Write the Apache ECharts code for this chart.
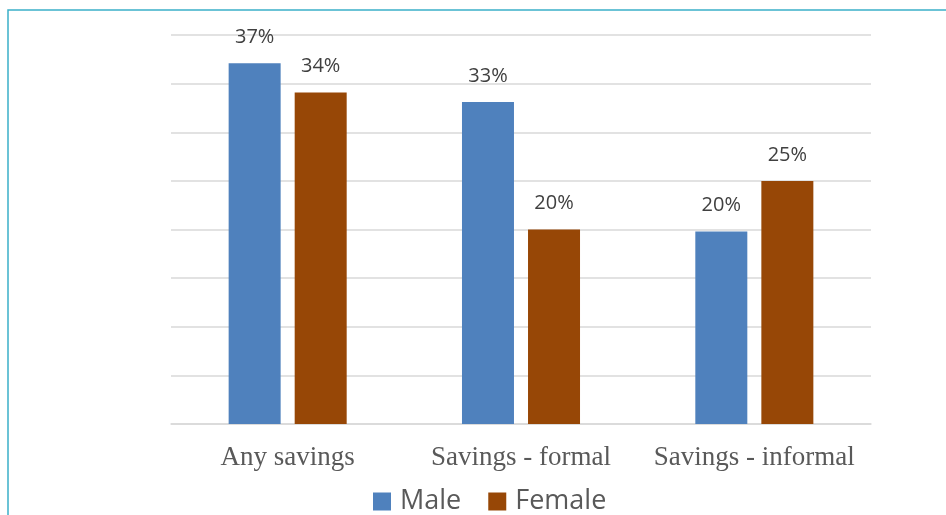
<!DOCTYPE html>
<html>
<head>
<meta charset="utf-8">
<script src="https://cdn.jsdelivr.net/npm/echarts@6/dist/echarts.min.js"></script>
<style>
html,body{margin:0;padding:0;background:#fff;}
#c{width:946px;height:515px;}
</style>
</head>
<body>
<div id="c"></div>
<script>
var categories = ['Any savings', 'Savings - formal', 'Savings - informal'];
var maleValues = [37.1, 33.1, 19.8];
var femaleValues = [34.1, 20.0, 25.0];
var maleLabels = ['37%', '33%', '20%'];
var femaleLabels = ['34%', '20%', '25%'];

var chart = echarts.init(document.getElementById('c'), null, {renderer: 'canvas'});
var labelStyle = {
  show: true, position: 'top', distance: 16,
  fontFamily: 'Open Sans, Liberation Sans, sans-serif', fontSize: 20, color: '#404040'
};
chart.setOption({
  animation: false,
  graphic: [{
    type: 'rect', silent: true,
    shape: {x: 8, y: 10, width: 1000, height: 600},
    style: {fill: 'none', stroke: '#3BB0C9', lineWidth: 1.5}
  }],
  legend: {
    data: ['Male', 'Female'],
    top: 483, left: 368,
    itemWidth: 18, itemHeight: 18, itemGap: 27,
    icon: 'rect',
    textStyle: {fontFamily: 'Open Sans, Liberation Sans, sans-serif', fontSize: 27, color: '#595959', padding: [0, 0, 0, 4]}
  },
  grid: {left: 171, right: 75, top: 35, bottom: 91},
  xAxis: {
    type: 'category', data: categories,
    axisLine: {lineStyle: {color: '#d9d9d9', width: 1.5}},
    axisTick: {show: false},
    axisLabel: {interval: 0, hideOverlap: false, fontFamily: 'Liberation Serif, Times New Roman, serif', fontSize: 27, color: '#595959', margin: 20}
  },
  yAxis: {
    type: 'value', min: 0, max: 40, interval: 5,
    axisLabel: {show: false},
    axisLine: {show: false}, axisTick: {show: false},
    splitLine: {lineStyle: {color: '#d9d9d9', width: 1.5}}
  },
  series: [{
    name: 'Male', type: 'bar', data: maleValues,
    barWidth: 52, barGap: '27%',
    itemStyle: {color: '#4F81BD'},
    label: Object.assign({}, labelStyle, {formatter: function (p) { return maleLabels[p.dataIndex]; }})
  }, {
    name: 'Female', type: 'bar', data: femaleValues,
    barWidth: 52,
    itemStyle: {color: '#974706'},
    label: Object.assign({}, labelStyle, {formatter: function (p) { return femaleLabels[p.dataIndex]; }})
  }]
});
</script>
</body>
</html>
